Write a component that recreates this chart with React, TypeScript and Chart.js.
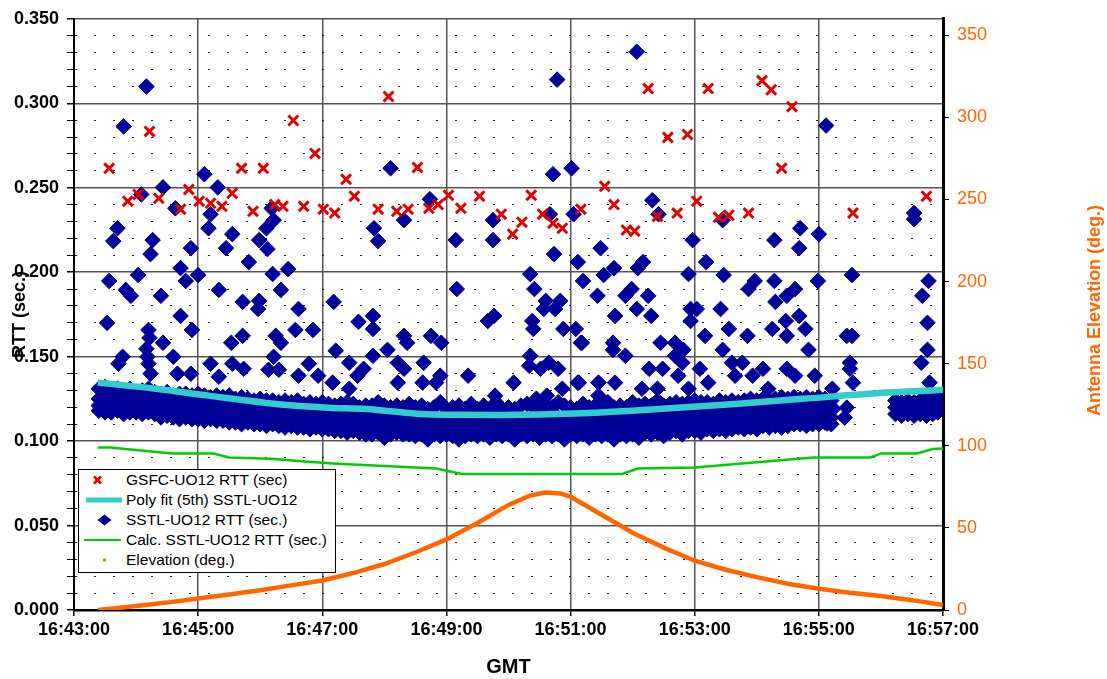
import { useEffect, useRef } from 'react';
import { Chart, registerables } from 'chart.js';

Chart.register(...registerables);

const FONT = "'Liberation Sans', Arial, Helvetica, sans-serif";
const START_CLOCK = 16 * 3600 + 43 * 60; // x = seconds after 16:43:00

const seriesNames = [
  'GSFC-UO12 RTT (sec)',
  'Poly fit (5th) SSTL-UO12',
  'SSTL-UO12 RTT (sec.)',
  'Calc. SSTL-UO12 RTT (sec.)',
  'Elevation (deg.)',
];

// [seconds after 16:43:00, RTT in ms]
const gsfcRttMs: [number, number][] = [
  [34, 261.5], [73, 283.3], [52, 242], [62, 246], [82, 243.7], [103, 237.3], [111, 249], [121, 242],
  [132, 240.8], [143, 239], [153, 246.7], [162, 261.5], [183, 261.5], [173, 236], [194, 240], [202, 239],
  [212, 289.8], [222, 239], [233, 270.3], [241, 237.3], [252, 235], [263, 255], [271, 245], [294, 237.3],
  [304, 304], [312, 236], [323, 237.3], [332, 262], [343, 237.8], [352, 240], [362, 245.5], [374, 237.8],
  [392, 245], [413, 234.3], [424, 222.5], [433, 229.6], [442, 245.5], [453, 234.3], [463, 229], [472, 226],
  [490, 237.3], [513, 250.8], [522, 240], [534, 224.9], [542, 224.3], [555, 308.7], [564, 233], [583, 235],
  [574, 279.8], [593, 281.5], [602, 242], [613, 308.7], [623, 232.5], [633, 233.7], [652, 235], [665, 313.4],
  [674, 308], [684, 261.5], [694, 298], [753, 235], [824, 245],
];

// dense SSTL band: [seconds, RTT ms, RTT ms, ...]
const sstlBandMs: number[][] = [
  [24, 131, 125, 121, 118], [30, 132, 127, 122, 117], [36, 130, 126, 120, 117], [42, 131, 124, 121, 118],
  [48, 130, 126, 122, 116], [54, 131, 125, 120, 117], [60, 129, 126, 121, 117], [66, 130, 124, 119, 116],
  [72, 131, 125, 121, 117], [78, 129, 124, 120, 116], [84, 128, 123, 118, 114], [90, 129, 124, 119, 115],
  [96, 127, 122, 118, 114], [102, 128, 123, 117, 113], [108, 128, 122, 118, 114], [114, 127, 123, 117, 113],
  [120, 128, 121, 117, 113], [126, 127, 122, 118, 112], [132, 126, 121, 116, 113], [138, 127, 122, 117, 112],
  [144, 126, 120, 116, 112], [150, 127, 121, 116, 111], [156, 125, 120, 115, 111], [162, 126, 121, 116, 110],
  [168, 125, 119, 114, 111], [174, 124, 120, 115, 110], [180, 125, 119, 114, 110], [186, 124, 118, 115, 109],
  [192, 124, 119, 114, 110], [198, 123, 118, 113, 109], [204, 124, 119, 114, 108], [210, 123, 117, 113, 109],
  [216, 124, 118, 112, 108], [222, 122, 117, 113, 108], [228, 123, 118, 112, 107], [234, 122, 116, 112, 108],
  [240, 123, 117, 111, 107], [246, 122, 116, 111, 107], [252, 121, 116, 111, 106], [258, 122, 115, 110, 106],
  [264, 123, 116, 111, 105], [270, 122, 115, 110, 106], [276, 120, 115, 110, 105], [282, 121, 116, 109, 104],
  [288, 121, 114, 110, 104], [294, 123, 115, 109, 105], [300, 121, 114, 109, 102], [306, 120, 115, 110, 104],
  [312, 121, 114, 109, 105], [318, 120, 113, 109, 104], [324, 122, 114, 108, 104], [330, 120, 115, 109, 103],
  [336, 121, 114, 109, 104], [342, 119, 113, 108, 101], [348, 120, 114, 109, 104], [354, 123, 113, 108, 103],
  [360, 119, 114, 109, 104], [366, 120, 113, 108, 103], [372, 121, 114, 108, 101], [378, 119, 113, 109, 103],
  [384, 122, 114, 108, 104], [390, 119, 113, 108, 103], [396, 121, 114, 109, 104], [402, 119, 113, 108, 102],
  [408, 123, 114, 108, 104], [414, 119, 113, 109, 103], [420, 120, 114, 108, 104], [426, 119, 113, 108, 101],
  [432, 121, 114, 109, 104], [438, 122, 113, 108, 103], [444, 120, 114, 109, 104], [450, 119, 113, 108, 102],
  [456, 121, 114, 109, 104], [462, 120, 113, 108, 103], [468, 123, 114, 109, 104], [474, 121, 113, 108, 101],
  [480, 120, 114, 109, 104], [486, 119, 113, 108, 103], [492, 122, 114, 109, 104], [498, 120, 113, 108, 102],
  [504, 121, 114, 109, 104], [510, 120, 114, 108, 103], [516, 123, 113, 109, 104], [522, 120, 114, 108, 101],
  [528, 121, 115, 109, 104], [534, 120, 114, 109, 103], [540, 123, 115, 109, 104], [546, 121, 114, 110, 102],
  [552, 122, 115, 109, 105], [558, 121, 115, 110, 104], [564, 124, 116, 110, 105], [570, 121, 115, 110, 103],
  [576, 122, 116, 111, 105], [582, 123, 116, 110, 106], [588, 122, 117, 111, 104], [594, 123, 116, 111, 106],
  [600, 124, 117, 112, 106], [606, 123, 117, 111, 105], [612, 123, 118, 112, 107], [618, 122, 117, 112, 106],
  [624, 124, 118, 112, 107], [630, 123, 117, 113, 106], [636, 124, 118, 112, 107], [642, 123, 118, 113, 108],
  [648, 124, 119, 113, 107], [654, 125, 119, 114, 108], [660, 124, 118, 113, 107], [666, 125, 119, 114, 109],
  [672, 124, 120, 114, 108], [678, 125, 119, 115, 109], [684, 126, 120, 114, 108], [690, 125, 120, 115, 109],
  [696, 126, 121, 115, 110], [702, 125, 120, 116, 110], [708, 126, 121, 115, 109], [714, 125, 120, 116, 110],
  [720, 126, 121, 115, 110], [726, 125, 120, 116, 111], [732, 124, 119, 114, 110],
  [794, 124, 120, 116], [800, 123, 119, 115], [806, 124, 120, 116], [812, 123, 119, 115],
  [818, 124, 120, 116], [824, 125, 120, 115], [830, 126, 121, 116], [835, 127, 122, 117],
];

// scattered SSTL samples: [seconds, RTT ms]
const sstlScatterMs: [number, number][] = [
  [70, 309.9], [48, 286.3], [126, 258], [139, 250.2], [86, 250.2], [65, 246], [98, 237.8], [132, 234.3],
  [130, 226], [42, 226], [38, 218.4], [76, 219], [74, 210.7], [113, 214.2], [153, 222.5], [147, 214.2],
  [169, 206], [179, 219], [187, 213.7], [186, 226], [193, 230.8], [191, 237.8], [207, 201.8], [192, 198.9],
  [103, 202.4], [120, 198.3], [108, 194.8], [62, 198.3], [34, 194.8], [50, 189.5], [55, 186], [84, 186],
  [140, 189.5], [200, 189.5], [179, 183], [178, 178.2], [163, 182.4], [217, 178.2], [251, 182.4], [103, 174.1],
  [32, 170], [114, 165.8], [72, 165.8], [73, 161.1], [86, 158.2], [163, 162.3], [152, 158.2], [195, 162.3],
  [200, 158.2], [214, 165.8], [231, 165.8], [70, 154.6], [47, 149.9], [43, 145.8], [71, 149.9], [72, 145.8],
  [96, 149.9], [132, 145.8], [153, 145.8], [164, 142.8], [193, 149.9], [188, 142.2], [198, 142.2], [227, 145.8],
  [217, 138.7], [236, 138.7], [140, 138.1], [74, 139.9], [100, 139.9], [113, 139.9], [253, 153.5],
  [467, 314], [306, 261.5], [463, 258], [481, 261.5], [344, 243.2], [319, 230.8], [290, 226], [294, 218.4],
  [369, 219], [405, 230.8], [405, 219], [460, 234.3], [483, 234.3], [464, 210.7], [487, 206], [441, 198.9],
  [445, 190], [370, 190], [275, 170.6], [289, 174.1], [289, 166.4], [319, 162.3], [322, 158.2], [345, 162.3],
  [355, 158.2], [400, 171.1], [406, 174.1], [456, 183], [470, 183], [454, 178.2], [465, 178.2], [443, 171.1],
  [444, 166.4], [473, 166.4], [485, 166.4], [491, 158.2], [492, 194.8], [303, 154], [289, 150.5], [266, 146.4],
  [280, 142.8], [274, 138.7], [313, 146.4], [319, 142.8], [338, 146.4], [354, 138.7], [381, 138.7], [441, 150.5],
  [440, 144.6], [451, 142.8], [459, 146.4], [468, 142.8], [425, 134.6], [407, 126.9], [447, 125.1], [457, 126.9],
  [472, 131], [250, 134.6], [266, 131], [313, 134.6], [337, 134.6], [350, 134.6], [488, 134.6],
  [727, 286.8], [559, 242.6], [565, 234.3], [627, 230.8], [598, 219], [677, 219], [702, 226], [720, 222.5],
  [701, 214.2], [509, 214.2], [611, 206], [522, 202.4], [550, 206], [545, 202.4], [512, 198.3], [594, 198.9],
  [628, 198.3], [719, 194.8], [658, 194.8], [677, 194.8], [652, 190], [539, 190], [697, 190], [506, 186],
  [533, 186], [555, 186], [689, 186], [678, 182.4], [544, 178.2], [596, 178.2], [602, 178.2], [625, 178.2],
  [523, 174.1], [558, 174.1], [701, 174.1], [596, 171.1], [688, 171.1], [633, 166.4], [675, 166.4], [707, 166.4],
  [610, 162.3], [651, 162.3], [689, 162.3], [490, 158.2], [521, 158.2], [567, 158.2], [581, 158.2], [521, 154],
  [589, 154], [627, 154], [710, 154], [533, 150.5], [581, 150.5], [588, 146.4], [636, 146.4], [646, 146.4],
  [556, 142.8], [569, 142.8], [605, 142.8], [666, 142.8], [689, 142.8], [584, 138.7], [639, 138.7], [656, 138.7],
  [697, 138.7], [716, 138.7], [487, 134.6], [507, 134.6], [523, 134.6], [613, 134.6], [671, 131], [507, 126.9],
  [549, 131], [564, 131], [594, 131], [733, 131], [544, 330.5],
  [752, 198.3], [747, 162.3], [752, 162.3], [750, 146.4], [750, 142.8], [753, 134.6], [747, 119.8], [745, 113.9],
  [728, 110.4], [734, 119.2], [812, 235], [812, 231.4], [826, 194.8], [820, 186], [825, 170], [825, 154],
  [819, 146.4], [827, 134.6],
];

// 5th order poly fit: [seconds, RTT ms]
const polyFitMs: [number, number][] = [
  [23, 134.6], [79, 131], [130, 126.9], [195, 122], [246, 119.8], [282, 119], [347, 115.7], [412, 115.5],
  [485, 116.3], [565, 119], [639, 122], [704, 125], [786, 128.7], [840, 130.4],
];

// calculated RTT: [seconds, RTT ms]
const calcRttMs: [number, number][] = [
  [23, 96.2], [35, 96.2], [55, 95.0], [75, 93.8], [95, 92.7], [135, 92.7], [150, 90.3], [190, 89.5],
  [220, 88.0], [250, 86.8], [300, 85.2], [350, 83.8], [375, 80.5], [530, 80.5], [545, 83.8], [600, 84.4],
  [640, 86.5], [680, 88.5], [715, 90.3], [770, 90.3], [780, 92.7], [815, 92.7], [830, 95.3], [840, 95.6],
];

// antenna elevation: [seconds, degrees]
const elevationDeg: [number, number][] = [
  [23, 0], [40, 1], [60, 2.5], [90, 4.5], [120, 7], [150, 9.5], [180, 12], [210, 15], [240, 18],
  [270, 22.5], [300, 28], [330, 35], [360, 43], [390, 53], [420, 64], [440, 69.5], [455, 71.5], [470, 71],
  [480, 69], [510, 58], [540, 47], [570, 38], [600, 30], [630, 24.5], [660, 20], [690, 16], [720, 13],
  [750, 10.5], [780, 8.5], [810, 6], [840, 3],
];

const msPts = (arr: [number, number][]) => arr.map(([x, y]) => ({ x, y: y / 1000 }));

const pad = (n: number) => (n < 10 ? '0' + n : String(n));
const clock = (s: number) => {
  const t = START_CLOCK + s;
  return `${Math.floor(t / 3600)}:${pad(Math.floor((t % 3600) / 60))}:${pad(t % 60)}`;
};
const isMajor = (v: number | undefined) =>
  v !== undefined && Math.abs(v * 20 - Math.round(v * 20)) < 1e-6;

const COLORS = {
  gsfc: '#E00000',
  poly: '#33CCCC',
  sstl: '#00009C',
  calc: '#00CC00',
  elev: '#FF6600',
};

const rightTitle = {
  id: 'rightTitle',
  afterDraw(chart: any) {
    const { ctx, chartArea } = chart;
    ctx.save();
    ctx.translate(chart.width - 12, (chartArea.top + chartArea.bottom) / 2 - 4);
    ctx.rotate(-Math.PI / 2);
    ctx.font = `bold 18px ${FONT}`;
    ctx.fillStyle = COLORS.elev;
    ctx.textAlign = 'center';
    ctx.textBaseline = 'middle';
    ctx.fillText('Antenna Elevation (deg.)', 0, 0);
    ctx.restore();
  },
};

function LegendSymbol({ i }: { i: number }) {
  if (i === 0)
    return (
      <g stroke={COLORS.gsfc} strokeWidth={2.5}>
        <line x1={15} y1={6.5} x2={22} y2={13.5} />
        <line x1={22} y1={6.5} x2={15} y2={13.5} />
      </g>
    );
  if (i === 1) return <line x1={7} y1={10} x2={43} y2={10} stroke={COLORS.poly} strokeWidth={5} />;
  if (i === 2) return <polygon points="18.5,10 25.5,4.5 32.5,10 25.5,15.5" fill={COLORS.sstl} />;
  if (i === 3) return <line x1={5} y1={10} x2={42} y2={10} stroke={COLORS.calc} strokeWidth={2} />;
  return <rect x={24} y={8.5} width={3} height={3} fill={COLORS.elev} />;
}

export default function App() {
  const ref = useRef<HTMLCanvasElement>(null);

  useEffect(() => {
    if (!ref.current) return;
    const sstlPts = [
      ...sstlBandMs.flatMap(([t, ...vals]) => vals.map((v) => ({ x: t, y: v / 1000 }))),
      ...msPts(sstlScatterMs),
    ];
    const chart = new Chart(ref.current, {
      type: 'scatter',
      data: {
        datasets: [
          {
            label: seriesNames[0],
            data: msPts(gsfcRttMs),
            pointStyle: 'crossRot',
            pointRadius: 7,
            borderColor: COLORS.gsfc,
            borderWidth: 3,
            yAxisID: 'y',
          },
          {
            label: seriesNames[1],
            data: msPts(polyFitMs),
            showLine: true,
            pointRadius: 0,
            borderColor: COLORS.poly,
            borderWidth: 6.5,
            cubicInterpolationMode: 'monotone',
            yAxisID: 'y',
          },
          {
            label: seriesNames[2],
            data: sstlPts,
            pointStyle: 'rectRot',
            pointRadius: 7.8,
            backgroundColor: COLORS.sstl,
            borderColor: '#000080',
            borderWidth: 1,
            yAxisID: 'y',
          },
          {
            label: seriesNames[3],
            data: msPts(calcRttMs),
            showLine: true,
            pointRadius: 0,
            borderColor: COLORS.calc,
            borderWidth: 2.5,
            yAxisID: 'y',
          },
          {
            label: seriesNames[4],
            data: elevationDeg.map(([x, y]) => ({ x, y })),
            showLine: true,
            pointRadius: 0,
            borderColor: COLORS.elev,
            borderWidth: 4.5,
            yAxisID: 'y1',
          },
        ] as any,
      },
      options: {
        animation: false,
        responsive: true,
        maintainAspectRatio: false,
        layout: { padding: { top: 17, left: 0, right: 0, bottom: 0 } },
        plugins: { legend: { display: false }, tooltip: { enabled: false } },
        scales: {
          x: {
            type: 'linear',
            position: 'bottom',
            min: 0,
            max: 840,
            afterFit: (s: any) => {
              s.height = 69;
            },
            ticks: {
              stepSize: 120,
              autoSkip: false,
              maxRotation: 0,
              color: '#000',
              padding: 3,
              font: { family: FONT, size: 18, weight: 'bold' },
              callback: (v: any) => clock(Number(v)),
            },
            grid: { color: '#555', lineWidth: 1.5, tickColor: '#000', tickLength: 6, tickWidth: 1.5 },
            border: { color: '#000', width: 2.5 },
            title: {
              display: true,
              text: 'GMT',
              color: '#000',
              padding: { top: 0, bottom: 0 },
              font: { family: FONT, size: 20, weight: 'bold' },
            },
          },
          y: {
            position: 'left',
            min: 0,
            max: 0.35,
            afterFit: (s: any) => {
              s.width = 74;
            },
            ticks: {
              stepSize: 0.01,
              autoSkip: false,
              color: '#000',
              padding: 8,
              font: { family: FONT, size: 18, weight: 'bold' },
              callback: (v: any) => (isMajor(Number(v)) ? Number(v).toFixed(3) : ''),
            },
            grid: {
              color: (ctx: any) => (isMajor(ctx.tick?.value) ? '#555' : '#222'),
              lineWidth: (ctx: any) => (isMajor(ctx.tick?.value) ? 1.5 : 1),
              tickColor: '#000',
              tickLength: 7,
            },
            border: {
              color: '#000',
              width: 2,
              dash: (ctx: any) => (ctx.tick && !isMajor(ctx.tick.value) ? [2, 17] : []),
            },
            title: {
              display: true,
              text: 'RTT (sec.)',
              color: '#000',
              padding: { top: 9, bottom: 0 },
              font: { family: FONT, size: 18, weight: 'bold' },
            },
          },
          y1: {
            position: 'right',
            min: 0,
            max: 360,
            afterFit: (s: any) => {
              s.width = 164;
            },
            ticks: {
              stepSize: 50,
              includeBounds: false,
              color: COLORS.elev,
              padding: 8,
              font: { family: FONT, size: 18 },
            },
            grid: { drawOnChartArea: false, tickColor: '#000', tickLength: 6 },
            border: { color: '#000', width: 3 },
          },
        },
      } as any,
      plugins: [rightTitle],
    });
    return () => chart.destroy();
  }, []);

  return (
    <div style={{ position: 'fixed', left: 0, top: 0, width: 1107, height: 679, background: '#fff' }}>
      <canvas ref={ref} />
      <div
        style={{
          position: 'absolute',
          left: 78,
          top: 469,
          width: 258,
          height: 104,
          boxSizing: 'border-box',
          border: '1.5px solid #000',
          background: '#fff',
          fontFamily: FONT,
          fontSize: 15.5,
          color: '#000',
        }}
      >
        {seriesNames.map((name, i) => (
          <div
            key={name}
            style={{ position: 'absolute', left: 0, top: i * 20, height: 20, display: 'flex', alignItems: 'center' }}
          >
            <svg width={47} height={20} style={{ display: 'block', flex: 'none' }}>
              <LegendSymbol i={i} />
            </svg>
            <span style={{ whiteSpace: 'nowrap', lineHeight: '20px' }}>{name}</span>
          </div>
        ))}
      </div>
    </div>
  );
}
